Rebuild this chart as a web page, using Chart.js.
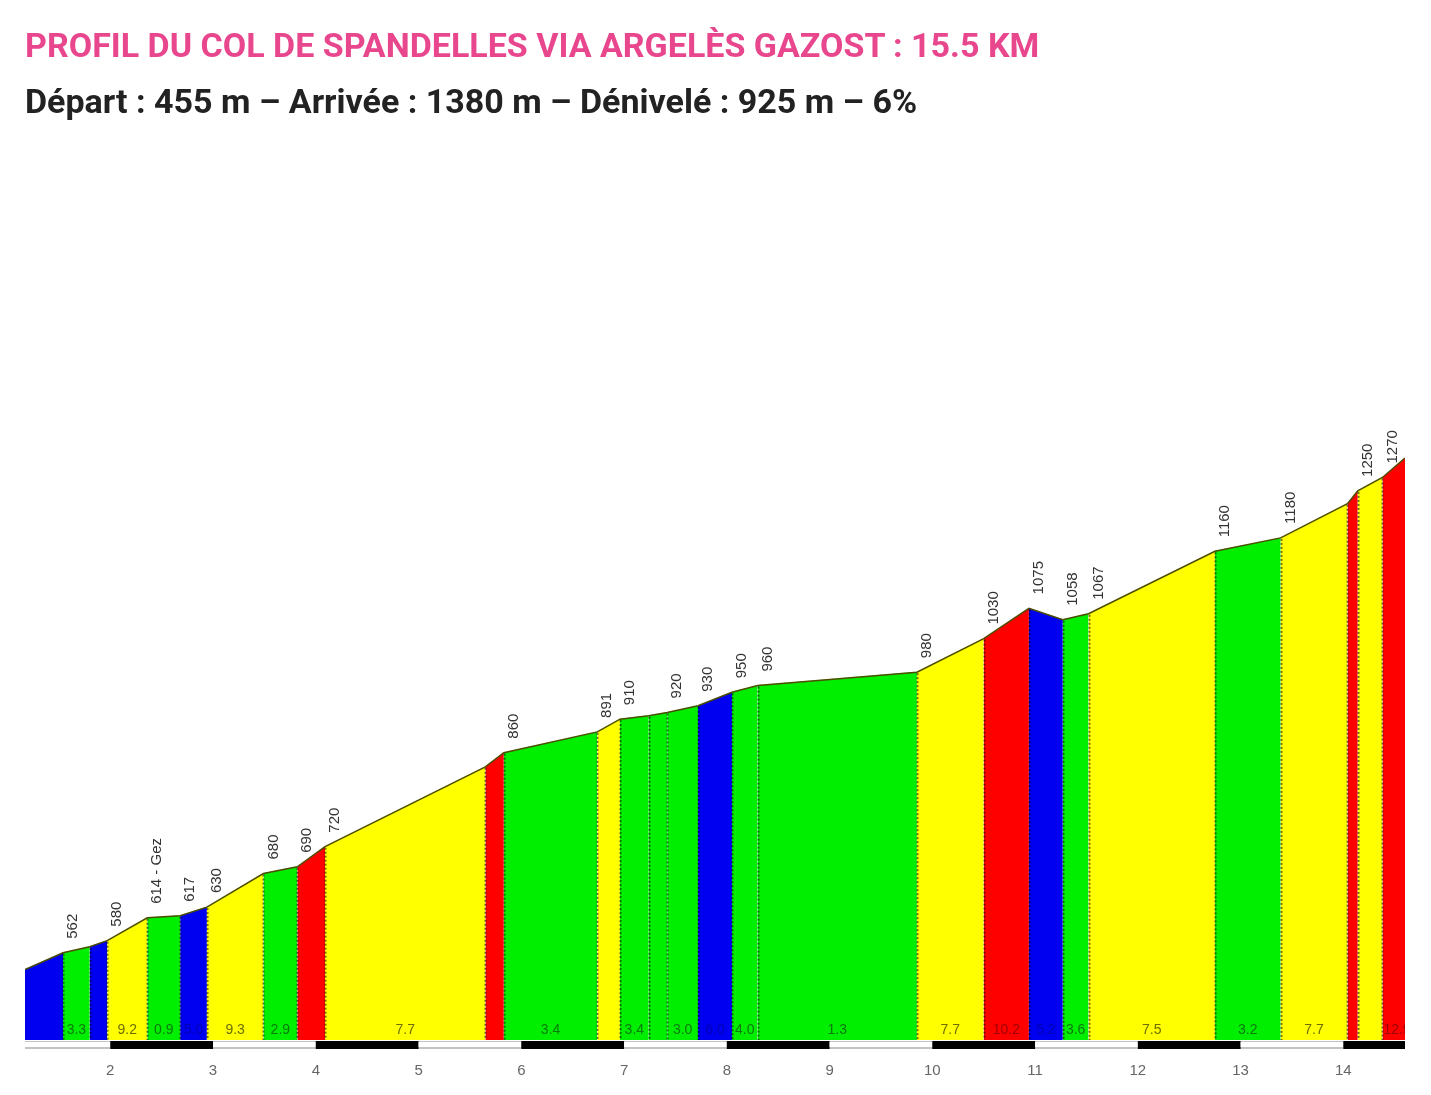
<!DOCTYPE html>
<html>
<head>
<meta charset="utf-8">
<script src="https://cdn.jsdelivr.net/npm/chart.js@4.4.0/dist/chart.umd.min.js"></script>
<style>
  html, body { margin:0; padding:0; background:#ffffff; }
  #wrap { position:relative; width:1431px; height:1095px; overflow:hidden; }
  #c { position:absolute; left:0; top:0; }
  .t1 { position:absolute; left:25px; top:28px; font-family:Roboto, "Open Sans", sans-serif; font-weight:700; font-size:34px; line-height:34px; color:#e8468d; white-space:nowrap; }
  .t2 { position:absolute; left:25px; top:84px; font-family:Roboto, "Open Sans", sans-serif; font-weight:700; font-size:34px; line-height:34px; color:#222222; white-space:nowrap; }
</style>
</head>
<body>
<div id="wrap">
  <canvas id="c" width="1431" height="1095"></canvas>
  <div class="t1">PROFIL DU COL DE SPANDELLES VIA ARGELÈS GAZOST : 15.5 KM</div>
  <div class="t2">Départ : 455 m – Arrivée : 1380 m – Dénivelé : 925 m – 6%</div>
</div>
<script>
// ---- data ----
const kmPoints = [1.17, 1.54, 1.80, 1.97, 2.36, 2.68, 2.94, 3.49, 3.82, 4.09, 5.65, 5.83, 6.74, 6.96, 7.24, 7.42, 7.72, 8.05, 8.30, 9.85, 10.50, 10.94, 11.27, 11.52, 12.75, 13.39, 14.04, 14.14, 14.38, 14.60];
const elevations = [537, 562, 571, 580, 614, 617, 630, 680, 690, 720, 839, 860, 891, 910, 915, 920, 930, 950, 960, 980, 1030, 1075, 1058, 1067, 1160, 1180, 1231, 1250, 1270, 1299];
const elevLabels = ['', '562', '', '580', '614 - Gez', '617', '630', '680', '690', '720', '', '860', '891', '910', '', '920', '930', '950', '960', '980', '1030', '1075', '1058', '1067', '1160', '1180', '', '1250', '1270', ''];
const segClasses = ['blue','green','blue','yellow','green','blue','yellow','green','red','yellow','red','green','yellow','green','green','green','blue','green','green','yellow','red','blue','green','yellow','green','yellow','red','yellow','red'];
const gradeLabels = ['', '3.3', '', '9.2', '0.9', '5.0', '9.3', '2.9', '', '7.7', '', '3.4', '', '3.4', '', '3.0', '6.0', '4.0', '1.3', '7.7', '10.2', '5.2', '3.6', '7.5', '3.2', '7.7', '', '', '12.9'];
const tickKm = [2, 3, 4, 5, 6, 7, 8, 9, 10, 11, 12, 13, 14];

// ---- styles ----
const fillColors = { blue:'#0000f0', green:'#00ee00', yellow:'#ffff00', red:'#ff0000' };
const textColors = { blue:'#0000b4', green:'#0a7a0a', yellow:'#6e6e00', red:'#a00000' };

const profile = kmPoints.map((k, i) => ({ x: k, y: elevations[i] }));
const datasets = [{
  data: profile,
  borderColor: '#4d4d00',
  borderWidth: 1.5,
  pointRadius: 0,
  fill: false,
  order: 0,
  tension: 0
}];
segClasses.forEach((cls, i) => {
  datasets.push({
    data: [profile[i], profile[i + 1]],
    backgroundColor: fillColors[cls],
    borderColor: fillColors[cls],
    borderWidth: 0.5,
    pointRadius: 0,
    fill: 'start',
    order: 1,
    tension: 0
  });
});

const decor = {
  id: 'decor',
  afterDatasetsDraw(chart) {
    const ctx = chart.ctx, xs = chart.scales.x, ys = chart.scales.y, ca = chart.chartArea;
    ctx.save();
    ctx.beginPath(); ctx.rect(ca.left, ca.top, ca.right - ca.left, ca.bottom - ca.top); ctx.clip();
    ctx.setLineDash([2, 2]);
    ctx.lineWidth = 2;
    ctx.strokeStyle = 'rgba(0,0,0,0.55)';
    for (let i = 1; i < kmPoints.length - 1; i++) {
      const px = Math.round(xs.getPixelForValue(kmPoints[i])) + 0.5;
      const py = ys.getPixelForValue(elevations[i]);
      ctx.beginPath(); ctx.moveTo(px, py + 1); ctx.lineTo(px, ca.bottom); ctx.stroke();
    }
    ctx.setLineDash([]);
    ctx.font = '14px "Liberation Sans", Arial, sans-serif';
    ctx.textAlign = 'center';
    ctx.textBaseline = 'middle';
    for (let i = 0; i < segClasses.length; i++) {
      if (!gradeLabels[i]) continue;
      const a = xs.getPixelForValue(kmPoints[i]), b = xs.getPixelForValue(kmPoints[i + 1]);
      const w = ctx.measureText(gradeLabels[i]).width;
      let cx = (a + b) / 2;
      if (cx - w / 2 < a + 1) cx = a + 1 + w / 2;
      ctx.fillStyle = textColors[segClasses[i]];
      ctx.fillText(gradeLabels[i], cx, ca.bottom - 10);
    }
    ctx.restore();
    ctx.save();
    ctx.font = '15px "Liberation Sans", Arial, sans-serif';
    ctx.fillStyle = '#333333';
    ctx.textAlign = 'left';
    ctx.textBaseline = 'middle';
    for (let i = 0; i < kmPoints.length; i++) {
      if (!elevLabels[i]) continue;
      const px = xs.getPixelForValue(kmPoints[i]), py = ys.getPixelForValue(elevations[i]);
      ctx.save();
      ctx.translate(px + 10, py - 14);
      ctx.rotate(-Math.PI / 2);
      ctx.fillText(elevLabels[i], 0, 0);
      ctx.restore();
    }
    ctx.restore();
  },
  afterDraw(chart) {
    const ctx = chart.ctx, xs = chart.scales.x, ca = chart.chartArea;
    const top = ca.bottom + 1, h = 8;
    ctx.save();
    ctx.fillStyle = '#c4c4c4';
    ctx.fillRect(ca.left, top, ca.right - ca.left, h);
    for (let k = Math.floor(xs.min); k < xs.max; k++) {
      const a = xs.getPixelForValue(Math.max(k, xs.min));
      const b = xs.getPixelForValue(Math.min(k + 1, xs.max));
      if (k % 2 === 0) {
        ctx.fillStyle = '#000000';
        ctx.fillRect(a, top, b - a, h);
      } else {
        ctx.fillStyle = '#ffffff';
        ctx.fillRect(a, top + 1, b - a, h - 3);
      }
    }
    ctx.restore();
  }
};

new Chart(document.getElementById('c'), {
  type: 'line',
  data: { datasets },
  options: {
    responsive: false,
    animation: false,
    layout: { padding: { left: 25, right: 26, top: 160, bottom: 0 } },
    plugins: { legend: { display: false }, tooltip: { enabled: false }, title: { display: false } },
    scales: {
      x: {
        type: 'linear',
        min: 1.17,
        max: 14.6,
        grid: { display: false, drawTicks: false },
        border: { display: false },
        ticks: { padding: 22, autoSkip: false, maxRotation: 0, color: '#666666', font: { family: '"Liberation Sans", Arial, sans-serif', size: 15 } },
        afterBuildTicks: (s) => { s.ticks = tickKm.map(v => ({ value: v })); },
        afterFit: (s) => { s.height = 55; }
      },
      y: { display: false, min: 432, max: 1743 }
    }
  },
  plugins: [decor]
});
</script>
</body>
</html>
